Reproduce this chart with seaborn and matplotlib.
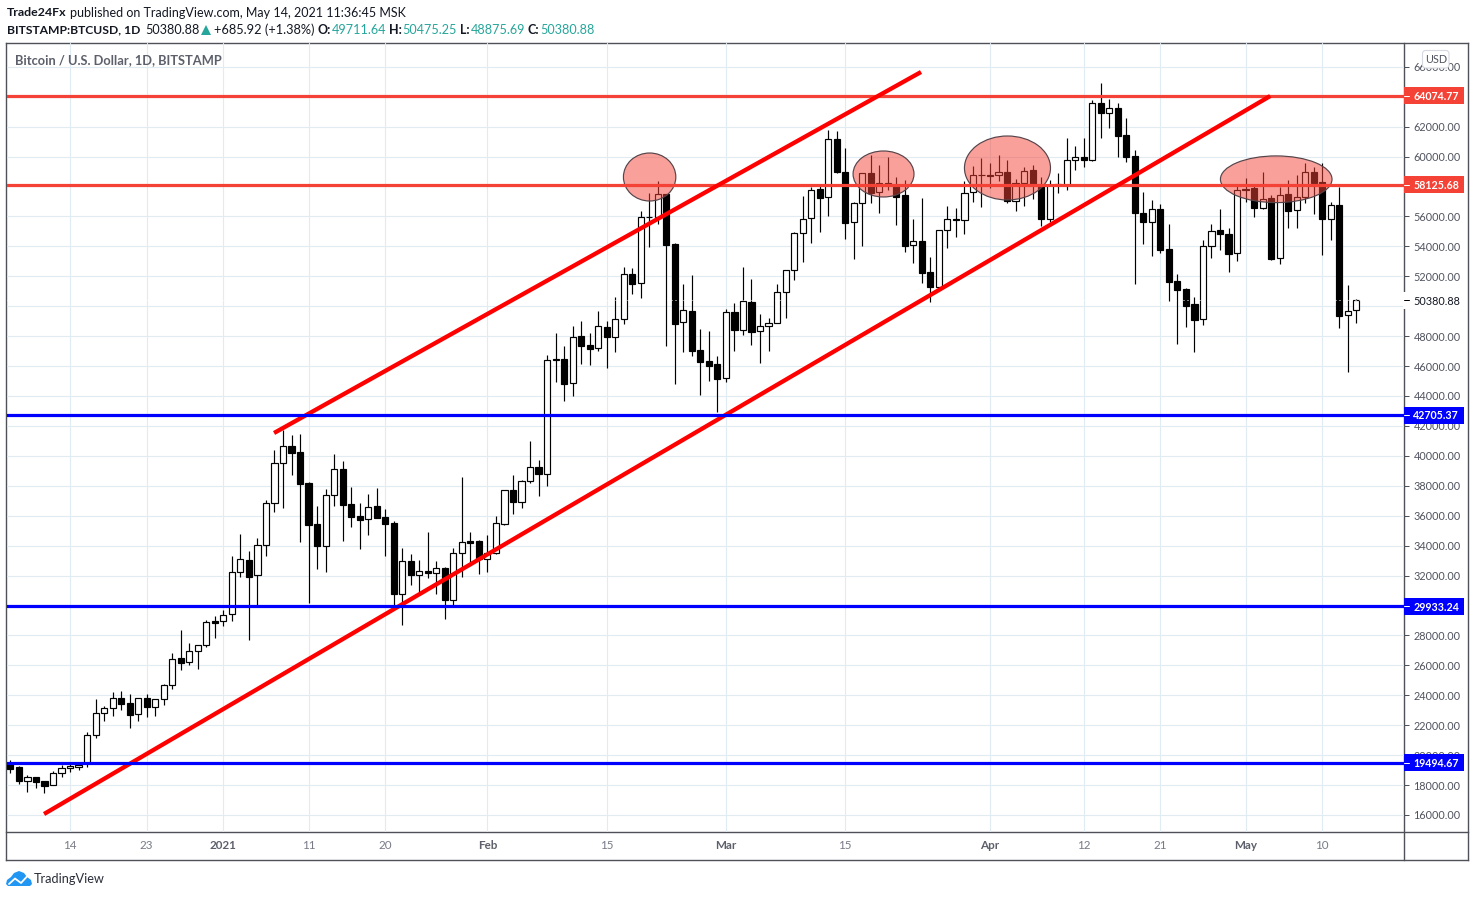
import matplotlib
matplotlib.use("Agg")
import matplotlib.pyplot as plt
import numpy as np
import pandas as pd
import seaborn as sns
from matplotlib.lines import Line2D
from matplotlib.patches import Ellipse, Polygon, Rectangle, FancyBboxPatch
from matplotlib.ticker import FuncFormatter
from matplotlib.transforms import Affine2D

# daily BTCUSD candles, 7 Dec 2020 to 14 May 2021, one row per month
opens = [
    19450, 19210, 18250, 18520, 18250, 17980, 18790, 19120, 19230, 19450, 21330, 22800, 23130, 23800, 23460, 22730, 23800, 23200, 23730, 24670, 26470, 26200, 26980, 27340, 28940,
    28940, 29410, 32220, 33040, 32020, 34020, 36830, 39500, 40640, 40240, 38180, 35420, 34000, 37360, 39100, 36780, 35960, 35800, 36630, 35890, 35490, 30790, 32950, 32060, 32280, 32190, 32480, 30390, 33490, 34290, 34290,
    33090, 33490, 35470, 37700, 36940, 38300, 39250, 38810, 46380, 46450, 44850, 47990, 47390, 47230, 48590, 47920, 49120, 52130, 51530, 55940, 55940, 57500, 54150, 48920, 49660, 47050, 46320, 46120,
    45220, 49590, 48390, 50300, 48320, 48700, 48860, 50930, 52400, 54870, 55870, 57810, 57270, 61150, 58950, 55600, 56870, 58880, 57610, 58210, 58100, 57410, 54070, 54330, 52260, 51260, 55070, 55800, 55740, 57610, 58750,
    58750, 58750, 58950, 57010, 58210, 59080, 58080, 55850, 58100, 58080, 59750, 59950, 59770, 63560, 62930, 63220, 61420, 60010, 56210, 55640, 56470, 53800, 51660, 51130, 50130, 49120, 54040, 55070, 54840, 53530,
    57830, 57900, 56540, 57230, 53200, 57480, 56410, 57320, 58950, 58280, 55800, 56740, 49390, 49711.64,
]
highs = [
    19680, 19270, 18670, 18520, 18250, 18920, 19340, 19410, 19480, 21530, 23750, 23280, 24220, 24290, 24090, 23800, 24090, 23730, 24750, 26830, 28360, 27490, 27340, 29030, 29300,
    29700, 33310, 34780, 33640, 34510, 37050, 40390, 41730, 41390, 41460, 38230, 36650, 37780, 40120, 39650, 37920, 36850, 37450, 37850, 36450, 35650, 33840, 33440, 33040, 34910, 32970, 32590, 33840, 38590, 34910, 34380,
    34710, 35980, 37700, 38720, 38390, 40990, 39720, 46740, 48210, 47340, 48680, 49010, 48210, 49680, 49010, 50610, 52600, 52550, 56340, 57540, 58360, 57500, 54200, 51480, 52080, 48480, 48340, 46670,
    49790, 50210, 52620, 51820, 49480, 49210, 51480, 52400, 54960, 57360, 57960, 58100, 61770, 61710, 60550, 56940, 58880, 60100, 59430, 59970, 58630, 58430, 55830, 57230, 53290, 55070, 56690, 56560, 58360, 59370, 59880,
    59570, 60100, 59770, 58480, 59300, 59430, 58610, 58430, 58900, 61220, 60700, 61220, 63760, 64890, 63840, 63560, 62570, 60440, 57630, 57090, 56830, 55490, 52150, 51210, 50590, 54420, 55490, 56490, 55220, 58030,
    58560, 58030, 58970, 57430, 57980, 58430, 58770, 59570, 59280, 59550, 56960, 57980, 51400, 50475.25,
]
lows = [
    18830, 18090, 17560, 17820, 17490, 17980, 18560, 18890, 19030, 19230, 21170, 22300, 22630, 23020, 21830, 22300, 22570, 22630, 23370, 24420, 25690, 26040, 25780, 27230, 27850,
    28650, 28980, 31920, 27710, 29970, 33310, 36270, 36510, 38720, 34260, 30190, 32460, 32260, 36670, 34330, 35260, 33790, 34730, 35840, 33330, 29900, 28720, 31370, 30900, 31840, 30770, 29100, 29970, 31920, 32860, 32100,
    32240, 33420, 35360, 36110, 36530, 38180, 37340, 38000, 44950, 43680, 44020, 46140, 46070, 47020, 45890, 46960, 48830, 50810, 50570, 53970, 55490, 47360, 44820, 46960, 46690, 44080, 45020, 42950,
    44950, 47020, 48090, 47430, 46220, 47020, 48860, 49230, 51770, 52970, 54240, 54980, 56040, 58920, 54510, 53170, 54040, 56910, 56250, 57760, 55440, 53620, 52890, 51570, 50300, 51260, 53910, 54640, 54840, 56960, 56650,
    57880, 58380, 56870, 56380, 56710, 57160, 55380, 55620, 57580, 57760, 59100, 59320, 59720, 61260, 61930, 59990, 59650, 51500, 54150, 53370, 53570, 50370, 47490, 48630, 46960, 48760, 53240, 53750, 52300, 53040,
    56960, 55980, 56470, 53070, 52840, 55240, 55240, 56910, 56160, 53440, 54420, 48520, 45620, 48875.69,
]
closes = [
    19090, 18290, 18520, 18230, 17960, 18790, 19120, 19250, 19340, 21330, 22800, 23130, 23800, 23440, 22700, 23800, 23200, 23730, 24670, 26440, 26180, 26980, 27340, 28880, 28850,
    29340, 32220, 33090, 31920, 34020, 36830, 39500, 40640, 40210, 38140, 35400, 34000, 37360, 39100, 36730, 35910, 35730, 36560, 35870, 35470, 30790, 32950, 32060, 32280, 32190, 32480, 30370, 33490, 34220, 34200, 33090,
    33490, 35490, 37700, 36940, 38300, 39230, 38810, 46380, 46450, 44820, 47920, 47360, 47160, 48660, 47920, 49120, 52130, 51500, 55940, 55960, 57480, 54110, 48830, 49720, 47020, 46290, 46020, 45150,
    49590, 48430, 50330, 48290, 48700, 48860, 50930, 52400, 54870, 55800, 57740, 57250, 61150, 58990, 55580, 56870, 58880, 57540, 58210, 58100, 57320, 54040, 54330, 52240, 51300, 55070, 55800, 55740, 57540, 58750, 58780,
    58680, 58950, 57010, 58210, 59050, 58080, 55850, 58100, 58130, 59750, 59950, 59790, 63560, 62930, 63220, 61390, 59990, 56250, 55640, 56470, 53770, 51640, 51100, 50010, 49100, 54040, 55040, 54840, 53510, 57740,
    57740, 56580, 57180, 53170, 57450, 56380, 57320, 58950, 58230, 55850, 56740, 49360, 49660, 50380.88,
]

red_levels = [64074.77, 58125.68]
blue_levels = [42705.37, 29933.24, 19494.67]
last_price = 50380.88

# trend lines: days since first candle, price
upper_days = [30.95, 106.9]
upper_prices = [41525, 65647]
lower_days = [3.95, 147.9]
lower_prices = [16067, 64044]

# highlighted tops: centre day, centre price, width in days, height in dollars
ellipse_days = [75.04, 102.5, 117.05, 148.6]
ellipse_prices = [58631, 58832, 59233, 58480]
ellipse_widths = [6.15, 7.15, 10.1, 13.1]
ellipse_heights = [3207, 3074, 4276, 3120]

x_tick_dates = ["2020-12-14", "2020-12-23", "2021-01-01", "2021-01-11", "2021-01-20", "2021-02-01", "2021-02-15",
                "2021-03-01", "2021-03-15", "2021-04-01", "2021-04-12", "2021-04-21", "2021-05-01", "2021-05-10"]
x_tick_labels = ["14", "23", "2021", "11", "20", "Feb", "15", "Mar", "15", "Apr", "12", "21", "May", "10"]
major_labels = ["2021", "Feb", "Mar", "Apr", "May"]
y_ticks = list(range(16000, 68000, 2000))

RED = "#f44336"
BLUE = "#0000ff"
TEAL = "#26a69a"
GRID = "#e1ecf2"
FRAME = "#4f5158"
UI_FONT = ["Lato", "DejaVu Sans"]

sns.set_style("white")
plt.rcParams["font.family"] = UI_FONT

W, H = 1475, 897
fig = plt.figure(figsize=(W / 100, H / 100), dpi=100, facecolor="white")
ax = fig.add_axes([7 / W, (H - 832) / H, 1397 / W, 789 / H], facecolor="none")
px = Affine2D().scale(1 / W, -1 / H).translate(0, 1) + fig.transFigure

df = pd.DataFrame({"date": pd.date_range("2020-12-07", periods=len(closes)),
                   "open": opens, "high": highs, "low": lows, "close": closes})
df["day"] = (df["date"] - df["date"].iloc[0]).dt.days
wicks = df.melt(id_vars="day", value_vars=["high", "low"], value_name="price").sort_values("day")

# grid and axes
ax.set_xlim(-0.4, 163.6)
ax.set_ylim(14864, 67585)
ax.set_axisbelow(True)
tick_days = [(pd.Timestamp(d) - df["date"].iloc[0]).days for d in x_tick_dates]
ax.set_xticks(tick_days, x_tick_labels)
ax.set_yticks(y_ticks)
ax.yaxis.tick_right()
# the 50000 label is hidden by the last price label on the scale
ax.yaxis.set_major_formatter(FuncFormatter(lambda v, _: "" if v == 50000 else f"{v:.2f}"))
ax.grid(True, color=GRID, lw=0.8)
ax.tick_params(axis="y", length=3.6, width=0.72, color=FRAME, labelsize=7.8, labelcolor="#50535e", pad=3.2)
ax.tick_params(axis="x", length=3, width=0.72, color=FRAME, labelsize=8.4, labelcolor="#787b86", pad=2.6)
for lab in ax.get_xticklabels():
    if lab.get_text() in major_labels:
        lab.set_fontweight("bold")
        lab.set_color("#5d606b")
for s in ax.spines.values():
    s.set_visible(False)

# candles
sns.lineplot(data=wicks, x="day", y="price", units="day", estimator=None, color="black", lw=0.85, ax=ax,
             legend=False, zorder=2, solid_capstyle="butt")
up = df["close"] >= df["open"]
body_low = df[["open", "close"]].min(axis=1)
body_h = (df["close"] - df["open"]).abs()
ax.bar(df["day"][up], body_h[up], bottom=body_low[up], width=0.72, facecolor="white", edgecolor="black",
       linewidth=0.85, zorder=3)
ax.bar(df["day"][~up], body_h[~up], bottom=body_low[~up], width=0.72, facecolor="black", edgecolor="black",
       linewidth=0.85, zorder=3)
ax.axhline(last_price, color="white", lw=0.72, ls=(0, (1, 3)), zorder=3.5)

# highlighted tops
for cx, cy, w, h in zip(ellipse_days, ellipse_prices, ellipse_widths, ellipse_heights):
    ax.add_patch(Ellipse((cx, cy), w, h, facecolor=(0.957, 0.263, 0.212, 0.5), edgecolor="#55444a", lw=0.85, zorder=4))

# levels and channel
for lvl in red_levels:
    ax.axhline(lvl, color=RED, lw=2.3, zorder=5)
for lvl in blue_levels:
    ax.axhline(lvl, color=BLUE, lw=2.3, zorder=6)
sns.lineplot(x=upper_days, y=upper_prices, color="#ff0000", lw=3.1, ax=ax, zorder=5.5, solid_capstyle="butt")
sns.lineplot(x=lower_days, y=lower_prices, color="#ff0000", lw=3.1, ax=ax, zorder=5.5, solid_capstyle="butt")
ax.set_xlabel("")
ax.set_ylabel("")
ax.set_xlim(-0.4, 163.6)
ax.set_ylim(14864, 67585)

# price labels on the scale
ytrans = ax.get_yaxis_transform()
for lvl, col in [(v, RED) for v in red_levels] + [(v, BLUE) for v in blue_levels]:
    ax.add_patch(Rectangle((1.0, lvl - 568), 59.5 / 1397, 1136, transform=ytrans, clip_on=False, facecolor=col,
                           edgecolor="none", zorder=8))
    ax.plot([1.0, 1.0036], [lvl, lvl], transform=ytrans, clip_on=False, color="white", lw=0.72, zorder=9)
    ax.text(1 + 32 / 1397, lvl - 40, f"{lvl:.2f}", transform=ytrans, color="white", fontsize=7.7, fontweight="bold",
            ha="center", va="center", zorder=9)
ax.add_patch(Rectangle((0.9994, last_price - 568), 60 / 1397, 1136, transform=ytrans, clip_on=False,
                       facecolor="white", edgecolor="none", zorder=7))
ax.plot([1.0, 1.0036], [last_price, last_price], transform=ytrans, clip_on=False, color="black", lw=0.72, zorder=9)
ax.text(1 + 9.5 / 1397, last_price - 40, f"{last_price:.2f}", transform=ytrans, color="#131722", fontsize=7.8,
        ha="left", va="center", zorder=9)

# frame around the panes
frame = dict(transform=px, color=FRAME, lw=1.0, zorder=-1, solid_capstyle="projecting")
for xs, ys in [([6, 1468], [43, 43]), ([6, 1468], [860, 860]), ([6, 6], [43, 860]),
               ([1468, 1468], [43, 860]), ([1404, 1404], [43, 860]), ([6, 1468], [832, 832])]:
    fig.add_artist(Line2D(xs, ys, **frame))

# USD button
fig.add_artist(FancyBboxPatch((1422.5, 50.5), 26.5, 17.5, boxstyle="round,pad=0,rounding_size=3", transform=px,
                              facecolor="white", edgecolor="#d6d8e0", lw=0.8, zorder=20))
fig.text(1436 / W, 1 - 59.5 / H, "USD", color="#50535e", fontsize=7.8, ha="center", va="center", zorder=21)


def put(x, y, s, color="#131722", weight="normal", size=9.0):
    fig.text(x / W, 1 - y / H, s, color=color, fontweight=weight, fontsize=size, ha="left", va="center", zorder=21)


# header
put(7, 13, "Trade24Fx", weight="bold", size=8.9)
put(70, 13, "published on TradingView.com, May 14, 2021 11:36:45 MSK")
put(7, 30, "BITSTAMP:BTCUSD, 1D", weight="bold", size=8.7)
put(145, 30, "50380.88", size=9.1)
fig.add_artist(Polygon([(201, 35), (211, 35), (206, 25)], closed=True, transform=px, facecolor=TEAL, edgecolor="none"))
put(214, 30, "+685.92 (+1.38%)", size=9.2)
put(318, 30, "O:", weight="bold")
put(332, 30, "49711.64", color=TEAL, size=9.1)
put(389, 30, "H:", weight="bold")
put(402, 30, "50475.25", color=TEAL, size=9.1)
put(460, 30, "L:", weight="bold")
put(471, 30, "48875.69", color=TEAL, size=9.1)
put(528, 30, "C:", weight="bold")
put(540, 30, "50380.88", color=TEAL, size=9.1)
put(15, 60, "Bitcoin / U.S. Dollar, 1D, BITSTAMP", color="#5d606b", weight="bold", size=9.25)

# logo
cloud = [(6, 884), (7, 880), (11, 877), (14, 873), (19, 871), (24, 873), (27, 877), (31, 880), (32, 884), (30, 886), (8, 886)]
fig.add_artist(Polygon(cloud, closed=True, transform=px, facecolor="#2196f3", edgecolor="none"))
fig.add_artist(Line2D([9, 15, 21, 27], [884, 878.5, 883, 876.5], transform=px, color="white", lw=1.3))
put(34, 879, "TradingView", color="#2a2e39", size=9.2)

fig.savefig("out.png", dpi=100)
